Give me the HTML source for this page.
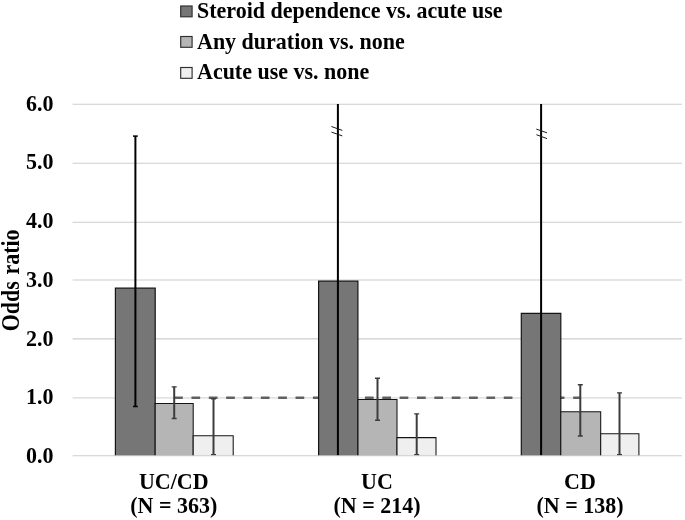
<!DOCTYPE html>
<html>
<head>
<meta charset="utf-8">
<title>Odds ratio chart</title>
<style>
html,body{margin:0;padding:0;background:#fff;}
svg{display:block;filter:grayscale(1) blur(0.3px);}
text{font-family:"Liberation Serif",serif;font-weight:bold;font-size:22px;fill:#000;}
</style>
</head>
<body>
<svg width="685" height="520" viewBox="0 0 685 520">
<rect x="0" y="0" width="685" height="520" fill="#ffffff"/>

<!-- legend -->
<g stroke="#2e2e2e" stroke-width="1.15">
<rect x="180.7" y="6.0" width="11.4" height="10.8" fill="#767676"/>
<rect x="180.7" y="36.5" width="11.4" height="10.8" fill="#b5b5b5"/>
<rect x="180.7" y="67.5" width="11.4" height="10.8" fill="#efefef"/>
</g>
<text transform="translate(197,17.6) scale(1,1.015)">Steroid dependence vs. acute use</text>
<text transform="translate(197,48.6) scale(1,1.015)">Any duration vs. none</text>
<text transform="translate(197,79.2) scale(1,1.015)">Acute use vs. none</text>
<!-- gridlines -->
<g stroke="#cdcdcd" stroke-width="1.1">
<line x1="72.6" x2="682" y1="104.3" y2="104.3"/>
<line x1="72.6" x2="682" y1="163.3" y2="163.3"/>
<line x1="72.6" x2="682" y1="222.2" y2="222.2"/>
<line x1="72.6" x2="682" y1="280.0" y2="280.0"/>
<line x1="72.6" x2="682" y1="338.9" y2="338.9"/>
<line x1="72.6" x2="682" y1="397.85" y2="397.85" stroke="#d8d8d8"/>
</g>
<!-- y tick labels -->
<text transform="translate(53.4,462.7) scale(1,1.09)" text-anchor="end">0.0</text>
<text transform="translate(53.4,403.9) scale(1,1.09)" text-anchor="end">1.0</text>
<text transform="translate(53.4,345.7) scale(1,1.09)" text-anchor="end">2.0</text>
<text transform="translate(53.4,286.5) scale(1,1.09)" text-anchor="end">3.0</text>
<text transform="translate(53.4,227.9) scale(1,1.09)" text-anchor="end">4.0</text>
<text transform="translate(53.4,169.2) scale(1,1.09)" text-anchor="end">5.0</text>
<text transform="translate(53.4,111.4) scale(1,1.09)" text-anchor="end">6.0</text>
<text transform="translate(18.6,331.3) rotate(-90) scale(1,1.1)">Odds<tspan dx="1.1"> ratio</tspan></text>
<!-- reference dashed line -->
<line x1="174.1" x2="580.5" y1="397.7" y2="397.7" stroke="#606060" stroke-width="2.6" stroke-dasharray="8.7 8.65"/>
<!-- bars (open at the bottom; axis line is drawn over them) -->
<g stroke="#141414" stroke-width="1.2">
<path fill="#767676" d="M115.4 456V288.2H155.2V456"/>
<path fill="#b5b5b5" stroke-width="1.05" d="M155.2 456V403.4H193.2V456"/>
<path fill="#efefef" stroke-width="1.05" d="M193.2 456V435.7H233.2V456"/>
<path fill="#767676" d="M318.6 456V281.2H357.9V456"/>
<path fill="#b5b5b5" stroke-width="1.05" d="M358.0 456V399.4H397.0V456"/>
<path fill="#efefef" stroke-width="1.05" d="M397.0 456V437.6H436.0V456"/>
<path fill="#767676" d="M521.3 456V313.3H560.8V456"/>
<path fill="#b5b5b5" stroke-width="1.05" d="M560.8 456V411.7H600.7V456"/>
<path fill="#efefef" stroke-width="1.05" d="M600.7 456V433.7H638.9V456"/>
</g>
<!-- error bars: dark series -->
<g stroke="#000" stroke-width="2.0" fill="none">
<line x1="135.4" x2="135.4" y1="136" y2="406.7"/>
<line x1="337.9" x2="337.9" y1="104" y2="455.5"/>
<line x1="541.1" x2="541.1" y1="104" y2="455.5"/>
</g>
<g stroke="#000" stroke-width="1.5">
<line x1="133" x2="137.8" y1="136.1" y2="136.1"/>
<line x1="133" x2="137.8" y1="406.5" y2="406.5"/>
</g>
<!-- axis-break marks -->
<g stroke="#1a1a1a" stroke-width="1">
<line x1="331.4" y1="126.5" x2="342.3" y2="130.4"/>
<line x1="331.5" y1="132.1" x2="342.3" y2="135.9"/>
<line x1="536.3" y1="129.1" x2="547" y2="132.8"/>
<line x1="536.4" y1="134.7" x2="547" y2="138.6"/>
</g>
<!-- error bars: light series -->
<g stroke="#3c3c3c" stroke-width="2.0" fill="none">
<path d="M174.2 386.7V418.7"/>
<path d="M213.5 398.5V455"/>
<path d="M377.5 378V420.5"/>
<path d="M416.7 413.7V455"/>
<path d="M580.3 384.5V436.2"/>
<path d="M619.5 392.7V455"/>
</g>
<g stroke="#3c3c3c" stroke-width="1.4" fill="none">
<path d="M171.7 386.9H176.7M171.7 418.5H176.7"/>
<path d="M211.0 398.7H216.0M211.0 454.8H216.0"/>
<path d="M375.0 378.2H380.0M375.0 420.3H380.0"/>
<path d="M414.2 413.9H419.2M414.2 454.8H419.2"/>
<path d="M577.8 384.7H582.8M577.8 436.0H582.8"/>
<path d="M617.0 392.9H622.0M617.0 454.8H622.0"/>
</g>
<!-- baseline over bars -->
<line x1="72.6" x2="682" y1="455.7" y2="455.7" stroke="#cdcdcd" stroke-width="1.1"/>
<!-- category labels -->
<text transform="translate(173.8,489.3) scale(1,1.06)" text-anchor="middle">UC/CD</text>
<text transform="translate(173.8,513.0) scale(1,1.06)" text-anchor="middle">(N = 363)</text>
<text transform="translate(377.0,489.3) scale(1,1.06)" text-anchor="middle">UC</text>
<text transform="translate(377.0,513.0) scale(1,1.06)" text-anchor="middle">(N = 214)</text>
<text transform="translate(580.0,489.3) scale(1,1.06)" text-anchor="middle">CD</text>
<text transform="translate(580.0,513.0) scale(1,1.06)" text-anchor="middle">(N = 138)</text>
</svg>
</body>
</html>
